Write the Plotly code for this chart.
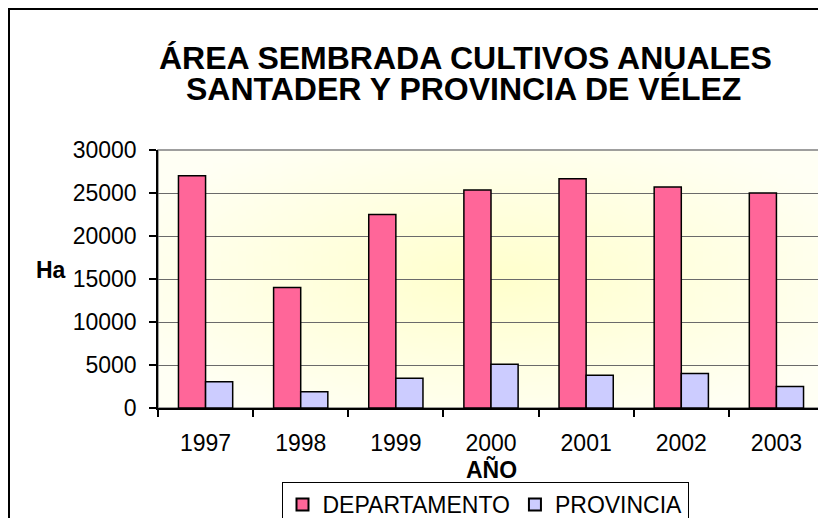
import base64, struct, zlib
import plotly.graph_objects as go

years = ["1997", "1998", "1999", "2000", "2001", "2002", "2003"]
departamento = [27000, 14000, 22500, 25350, 26650, 25700, 25000]
provincia = [3050, 1900, 3450, 5100, 3800, 4000, 2500]
y_ticks = [0, 5000, 10000, 15000, 20000, 25000, 30000]

FONT = "Liberation Sans, Arial, sans-serif"


def gradient_png(w, h, center=(255, 255, 204), edge=(255, 255, 244)):
    rows = []
    for j in range(h):
        row = bytearray([0])
        for i in range(w):
            dx = (i + 0.5) / w * 2 - 1
            dy = (j + 0.5) / h * 2 - 1
            t = min(1.0, (dx * dx + dy * dy) ** 0.5 / 1.2)
            for c0, c1 in zip(center, edge):
                row.append(int(round(c0 + (c1 - c0) * t)))
        rows.append(bytes(row))
    raw = b"".join(rows)

    def chunk(tag, data):
        return (struct.pack(">I", len(data)) + tag + data +
                struct.pack(">I", zlib.crc32(tag + data) & 0xFFFFFFFF))

    png = (b"\x89PNG\r\n\x1a\n" +
           chunk(b"IHDR", struct.pack(">IIBBBBB", w, h, 8, 2, 0, 0, 0)) +
           chunk(b"IDAT", zlib.compress(raw, 9)) +
           chunk(b"IEND", b""))
    return "data:image/png;base64," + base64.b64encode(png).decode()


fig = go.Figure()
fig.add_trace(go.Bar(x=years, y=departamento, name="DEPARTAMENTO",
                     marker=dict(color="#FF6699", line=dict(color="black", width=1.5))))
fig.add_trace(go.Bar(x=years, y=provincia, name="PROVINCIA",
                     marker=dict(color="#CCCCFF", line=dict(color="black", width=1.5))))

OFF = 8  # page body margin
W, H = 826 - OFF, 518 - OFF
# plot area in window pixels: x 158..824, y 150..408
L = 158 - OFF
T = 150 - OFF
pw, ph = 666, 258
R = W - L - pw
B = H - T - ph


def px_x(x):
    return (x - OFF - L) / pw


def px_y(y):
    return (T + ph - (y - OFF)) / ph


fig.update_layout(
    width=W, height=H,
    margin=dict(l=L, r=R, t=T, b=B, autoexpand=False),
    paper_bgcolor="white",
    plot_bgcolor="rgba(0,0,0,0)",
    barmode="group",
    bargap=0.43,
    bargroupgap=0,
    font=dict(family=FONT, size=23, color="black"),
    showlegend=True,
    legend=dict(orientation="h", xref="container", yref="container",
                x=(485 - OFF) / W, xanchor="center",
                y=(H - (482 - OFF)) / H, yanchor="top",
                bordercolor="black", borderwidth=1, bgcolor="white",
                font=dict(size=23), itemsizing="constant"),
    images=[dict(source=gradient_png(80, 50), xref="paper", yref="paper",
                 x=0, y=1, sizex=1, sizey=1, sizing="stretch",
                 layer="below", xanchor="left", yanchor="top")],
    shapes=[
        dict(type="rect", xref="paper", yref="paper", x0=0, x1=1, y0=0, y1=1,
             line=dict(color="#808080", width=1.5), layer="below"),
        dict(type="rect", xref="paper", yref="paper",
             x0=px_x(9), x1=px_x(900), y0=px_y(600), y1=px_y(9),
             line=dict(color="black", width=2)),
    ],
    annotations=[
        dict(text="<b>ÁREA SEMBRADA CULTIVOS ANUALES</b>", xref="paper", yref="paper",
             x=px_x(465), y=px_y(78), xanchor="center", yanchor="bottom",
             showarrow=False, font=dict(size=32, family=FONT)),
        dict(text="<b>SANTADER Y PROVINCIA DE VÉLEZ</b>", xref="paper", yref="paper",
             x=px_x(463), y=px_y(109), xanchor="center", yanchor="bottom",
             showarrow=False, font=dict(size=32, family=FONT)),
        dict(text="<b>Ha</b>", xref="paper", yref="paper",
             x=px_x(51), y=px_y(270), xanchor="center", yanchor="middle",
             showarrow=False, font=dict(size=23, family=FONT)),
        dict(text="<b>AÑO</b>", xref="paper", yref="paper",
             x=px_x(491), y=px_y(469), xanchor="center", yanchor="middle",
             showarrow=False, font=dict(size=23, family=FONT)),
    ],
)

fig.update_xaxes(showgrid=False, showline=True, linecolor="black", linewidth=1.5,
                 ticks="outside", ticklen=7, tickcolor="black", tickwidth=1.5,
                 tickson="boundaries", tickfont=dict(size=23), ticklabelstandoff=14,
                 automargin=False)
fig.update_yaxes(range=[0, 30000], tickvals=y_ticks, ticktext=[str(v) for v in y_ticks],
                 showgrid=True, gridcolor="#6a6a6a", gridwidth=1.2,
                 showline=True, linecolor="black", linewidth=1.5, zeroline=False,
                 ticks="outside", ticklen=7, tickcolor="black", tickwidth=1.5,
                 tickfont=dict(size=23), ticklabelstandoff=8, automargin=False)

fig.write_html("out.html")
